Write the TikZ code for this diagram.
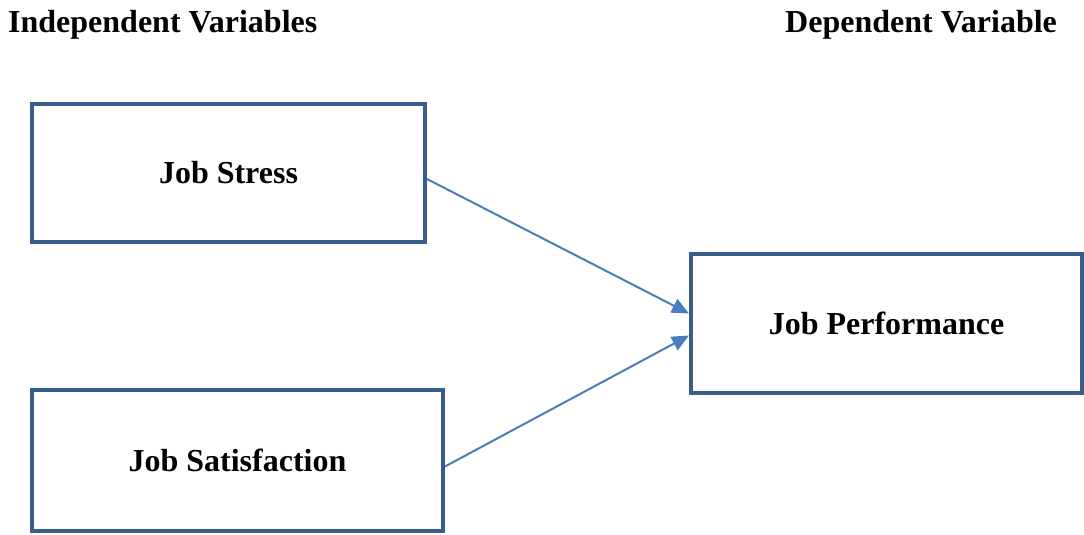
\documentclass[tikz,border=0pt]{standalone}
\usepackage{fontspec}
\setmainfont{Liberation Serif}
\usepackage{xcolor}
\definecolor{boxline}{RGB}{56,93,138}
\definecolor{arrowline}{RGB}{74,126,187}
\usetikzlibrary{arrows.meta}
\usetikzlibrary{positioning}

\begin{document}
\begin{tikzpicture}[x=1pt, y=-1pt,
  every node/.style={font=\fontsize{32}{38}\selectfont\bfseries},
  varbox/.style={draw=boxline, line width=4pt, rectangle, fill=white},
  link/.style={draw=arrowline, line width=2pt, -{Triangle[length=17pt,width=15pt]}}]

  \useasboundingbox (0,0) rectangle (1084,535);

  % headings
  \node[anchor=base west, inner sep=0pt] (indep) at (8,33) {Independent Variables};
  \node[anchor=base west, inner sep=0pt] (dep) at (785,33) {Dependent Variable};

  % variables
  \node[varbox, minimum width=393pt, minimum height=138pt] (stress) at (228.5,173) {Job Stress};
  \node[varbox, minimum width=411pt, minimum height=141pt] (satis) at (237.5,460.5) {Job Satisfaction};
  \node[varbox, minimum width=391pt, minimum height=139pt] (perf) at (886.5,323.5) {Job Performance};

  % links
  \draw[link] ([yshift=-6pt]stress.east) -- ([yshift=10pt]perf.west);
  \draw[link] ([yshift=-6pt]satis.east) -- ([yshift=-12pt]perf.west);

\end{tikzpicture}
\end{document}
